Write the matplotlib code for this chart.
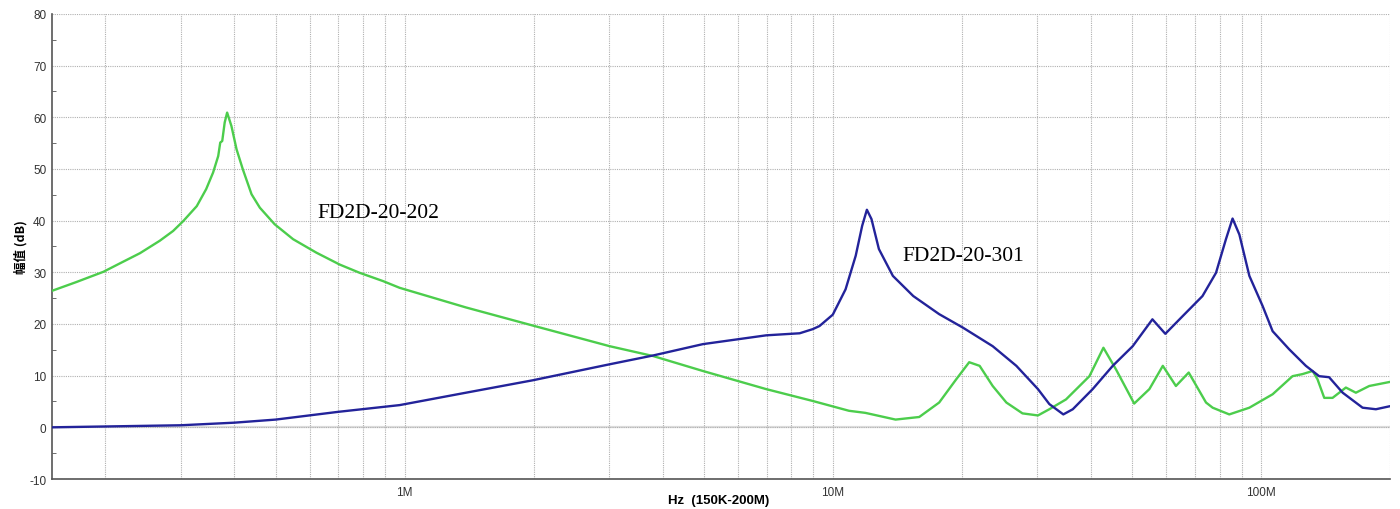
import numpy as np
import matplotlib.pyplot as plt
from matplotlib.ticker import LogLocator, FuncFormatter, MultipleLocator

# frequency in MHz, amplitude in dB
green_f = [0.15, 0.171, 0.198, 0.216, 0.241, 0.268, 0.288, 0.304, 0.327, 0.344,
           0.357, 0.367, 0.371, 0.375, 0.380, 0.385, 0.394, 0.405, 0.419, 0.439,
           0.459, 0.497, 0.549, 0.622, 0.705, 0.785, 0.890, 0.973, 1.39, 1.99,
           3.01, 3.80, 4.97, 6.98, 8.97, 10.9, 11.9, 14.0, 15.9, 17.7,
           19.4, 20.8, 22.0, 23.6, 25.4, 27.7, 30.1, 32.0, 35.0, 39.7,
           42.8, 45.8, 50.5, 54.8, 58.9, 63.2, 67.7, 74.3, 77.0, 84.2,
           93.8, 106.3, 118.3, 124.8, 131.8, 135.3, 140.3, 146.7, 157.6, 166.3,
           178.7, 200]
green_db = [26.4, 28.1, 30.1, 31.7, 33.7, 36.1, 38.0, 39.9, 42.8, 46.1,
            49.3, 52.5, 55.1, 55.4, 59.0, 60.9, 58.3, 53.8, 49.9, 45.1,
            42.5, 39.3, 36.4, 33.8, 31.5, 29.9, 28.3, 27.0, 23.2, 19.7,
            15.7, 13.8, 10.9, 7.4, 5.1, 3.2, 2.8, 1.5, 2.0, 4.8,
            9.3, 12.6, 11.9, 8.0, 4.8, 2.7, 2.3, 3.5, 5.4, 9.9,
            15.4, 11.2, 4.6, 7.4, 11.9, 8.0, 10.6, 4.8, 3.8, 2.5,
            3.8, 6.4, 9.9, 10.3, 10.9, 9.3, 5.7, 5.7, 7.7, 6.7,
            8.0, 8.8]

blue_f = [0.15, 0.3, 0.4, 0.5, 0.7, 0.973, 1.39, 1.99, 3.01, 3.80,
          4.97, 6.98, 8.36, 8.97, 9.30, 9.99, 10.7, 11.3, 11.7, 12.0,
          12.3, 12.8, 13.8, 15.4, 17.7, 20.1, 23.6, 26.8, 30.1, 32.0,
          34.5, 36.3, 40.4, 45.0, 50.1, 55.7, 59.7, 65.5, 72.9, 78.4,
          82.7, 85.7, 88.9, 93.8, 100.7, 106.3, 116.2, 127.1, 136.5, 144,
          154.9, 172.4, 185.2, 200]
blue_db = [0, 0.4, 0.9, 1.5, 3.0, 4.3, 6.7, 9.1, 12.2, 13.9,
           16.1, 17.8, 18.2, 19.0, 19.6, 21.8, 26.7, 33.2, 39.0, 42.1,
           40.3, 34.5, 29.3, 25.4, 21.9, 19.3, 15.7, 11.9, 7.4, 4.5,
           2.5, 3.5, 7.4, 11.9, 15.7, 20.9, 18.1, 21.5, 25.4, 29.9,
           36.4, 40.4, 37.3, 29.3, 23.5, 18.6, 15.1, 11.9, 9.9, 9.7,
           6.7, 3.8, 3.5, 4.1]

labels = ["FD2D-20-202", "FD2D-20-301"]

plt.rcParams['font.family'] = ['Liberation Sans', 'Noto Sans CJK SC']
plt.rcParams['axes.unicode_minus'] = False

fig = plt.figure(figsize=(14, 5.1), dpi=100)
ax = fig.add_axes([0.037, 0.0588, 0.956, 0.912])

hz = 1e6
ax.axhline(0, color='#dddddd', lw=1.6, zorder=1)
ax.plot(np.array(green_f) * hz, green_db, color='#4ccd4c', lw=1.7, zorder=3)
ax.plot(np.array(blue_f) * hz, blue_db, color='#23239a', lw=1.7, zorder=4)

ax.set_xscale('log')
ax.set_xlim(0.15e6, 200e6)
ax.set_ylim(-10, 80)

ax.xaxis.set_major_locator(LogLocator(base=10))
ax.xaxis.set_minor_locator(LogLocator(base=10, subs=np.arange(2, 10)))
ax.xaxis.set_major_formatter(FuncFormatter(lambda v, p: f"{v/1e6:g}M"))
ax.xaxis.set_minor_formatter(FuncFormatter(lambda v, p: ""))
ax.yaxis.set_major_locator(MultipleLocator(10))
ax.yaxis.set_minor_locator(MultipleLocator(5))

grid_kw = dict(color='#b0b0b0', lw=0.8, linestyle=(0, (1, 1)))
ax.grid(True, which='major', axis='both', **grid_kw)
ax.grid(True, which='minor', axis='x', **grid_kw)

ax.tick_params(axis='x', which='both', length=0, labelsize=8.5, colors='#333333', pad=5)
ax.tick_params(axis='y', which='major', length=0, labelsize=8.5, colors='#333333', pad=4)
ax.tick_params(axis='y', which='minor', direction='in', length=3, color='#555555')

for s in ['top', 'right']:
    ax.spines[s].set_visible(False)
for s in ['left', 'bottom']:
    ax.spines[s].set_color('#555555')
    ax.spines[s].set_linewidth(1.2)

ax.set_ylabel("幅值 (dB)", fontsize=9, fontweight='bold', family=['Noto Sans CJK SC', 'DejaVu Sans'], labelpad=1)
ax.set_xlabel("Hz  (150K-200M)", fontsize=9.5, fontweight='bold')
ax.xaxis.set_label_coords(0.498, -0.033)

ax.text(0.627e6, 41.6, labels[0], family='Liberation Serif', fontsize=15.5, ha='left', va='center')
ax.text(14.55e6, 33.3, labels[1], family='Liberation Serif', fontsize=15.5, ha='left', va='center')

fig.savefig('out.png', dpi=100)
